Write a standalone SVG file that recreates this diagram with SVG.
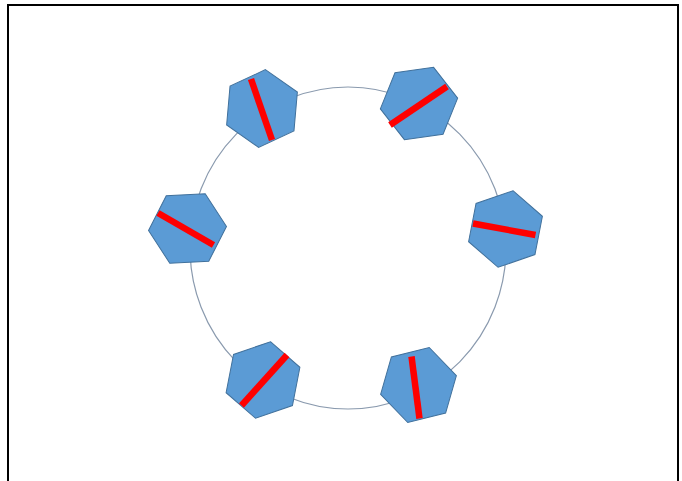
<svg xmlns="http://www.w3.org/2000/svg" xmlns:xlink="http://www.w3.org/1999/xlink" width="682" height="481" viewBox="0 0 682 481">
  <style>
    .hex { fill: #5B9BD5; stroke: #41719C; stroke-width: 1; }
    .bar { stroke: #FF0000; stroke-width: 6.5; stroke-linecap: butt; }
    .ring { fill: none; stroke: #8A9AAE; stroke-width: 1.2; }
  </style>
  <defs>
    <polygon id="hex" points="0,-39 33.8,-19.5 33.8,19.5 0,39 -33.8,19.5 -33.8,-19.5"/>
  </defs>
  <rect x="0" y="0" width="682" height="481" fill="#FFFFFF"/>
  <rect x="8" y="5" width="670" height="495" fill="none" stroke="#000000" stroke-width="2"/>
  <g id="connectors">
    <ellipse class="ring" cx="348" cy="248" rx="158" ry="161"/>
  </g>
  <g id="n1">
    <use xlink:href="#hex" class="hex" transform="translate(262,108.5) rotate(5)"/>
    <line class="bar" x1="251" y1="79" x2="272" y2="140"/>
  </g>
  <g id="n2">
    <use xlink:href="#hex" class="hex" transform="translate(419,103.5) rotate(22)"/>
    <line class="bar" x1="390" y1="125" x2="447" y2="86.5"/>
  </g>
  <g id="n3">
    <use xlink:href="#hex" class="hex" transform="translate(187.5,228.5) rotate(27)"/>
    <line class="bar" x1="158" y1="213" x2="213.5" y2="245"/>
  </g>
  <g id="n4">
    <use xlink:href="#hex" class="hex" transform="translate(505.5,229) rotate(11)"/>
    <line class="bar" x1="473" y1="223.5" x2="535.5" y2="235"/>
  </g>
  <g id="n5">
    <use xlink:href="#hex" class="hex" transform="translate(263,380) rotate(11)"/>
    <line class="bar" x1="241.5" y1="405.5" x2="287" y2="355"/>
  </g>
  <g id="n6">
    <use xlink:href="#hex" class="hex" transform="translate(418.5,385) rotate(16)"/>
    <line class="bar" x1="411.5" y1="356.5" x2="419.5" y2="418.5"/>
  </g>
</svg>
